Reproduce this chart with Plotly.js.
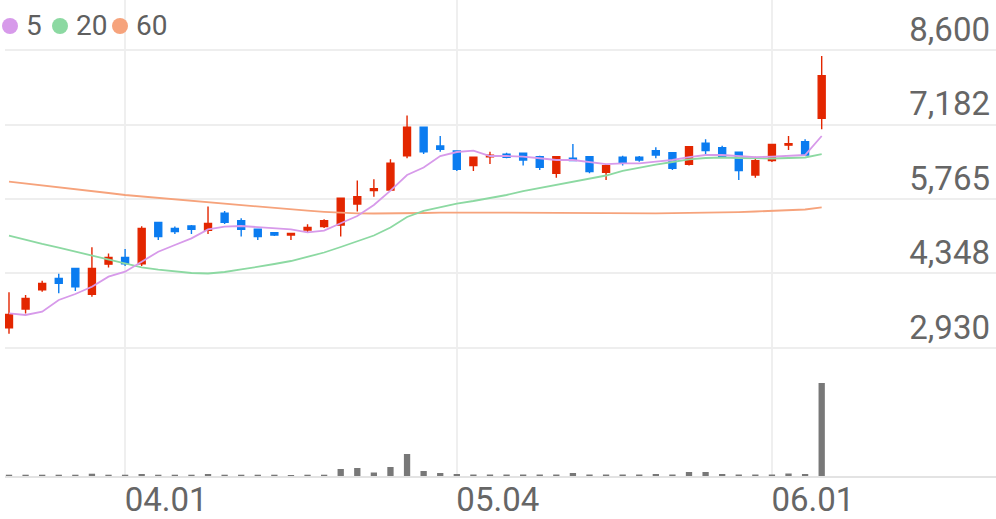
<!DOCTYPE html>
<html>
<head>
<meta charset="utf-8">
<script src="https://cdn.plot.ly/plotly-3.0.1.min.js"></script>
<style>html,body{margin:0;padding:0;background:#fff;}#chart{width:996px;height:519px;}</style>
</head>
<body>
<div id="chart"></div>
<script>
// Trading days (MM.DD)
const dates = ['03.23','03.24','03.25','03.26','03.27','03.30','03.31',
  '04.01','04.02','04.03','04.06','04.07','04.08','04.09','04.10','04.13','04.14','04.16','04.17','04.20','04.21','04.22','04.23','04.24','04.27','04.28','04.29',
  '05.04','05.06','05.07','05.08','05.11','05.12','05.13','05.14','05.15','05.18','05.19','05.20','05.21','05.22','05.25','05.26','05.27','05.28','05.29',
  '06.01','06.02','06.03','06.04'];

const open  = [3315,3670,4035,4255,4445,3950,4525,4655,4530,5320,5205,5250,5170,5495,5350,5190,5125,5080,5175,5240,5270,5670,5925,5935,6585,7130,6775,6680,6400,6570,6615,6635,6570,6255,6540,6570,6275,6560,6560,6685,6645,6425,6825,6740,6655,6220,6495,6790,6855,7300];
const high  = [3990,3940,4210,4345,4455,4845,4730,4815,5245,5330,5240,5270,5620,5535,5400,5200,5135,5120,5285,5380,5795,6115,6140,6520,7355,7140,6965,6690,6565,6665,6645,6640,6590,6585,6810,6575,6430,6590,6585,6750,6650,6775,6900,6780,6660,6570,6810,6965,6900,8485];
const low   = [3200,3585,4000,3970,4015,3905,4460,4490,4490,4985,5100,5100,5100,5290,5050,4985,5060,4985,5125,5215,5050,5525,5810,5915,6540,6620,6665,6300,6300,6430,6540,6400,6315,6170,6490,6255,6125,6400,6475,6540,6315,6400,6620,6560,6125,6170,6470,6695,6585,7090];
const close = [3570,3875,4160,4160,4095,4445,4655,4530,5205,5050,5145,5190,5300,5320,5190,5050,5080,5110,5225,5350,5780,5810,5960,6445,7130,6665,6710,6330,6560,6600,6560,6505,6370,6570,6495,6285,6400,6445,6505,6600,6350,6760,6685,6570,6305,6495,6805,6815,6600,8110];

const ma5  = [3590,3558,3621,3843,3957,4096,4287,4382,4572,4762,4890,5017,5185,5238,5251,5227,5200,5189,5131,5162,5303,5442,5651,5923,6222,6364,6583,6659,6684,6583,6583,6570,6540,6507,6507,6475,6430,6444,6444,6475,6507,6560,6602,6602,6583,6560,6570,6589,6602,6964];
const ma20 = [5067,4985,4909,4838,4762,4686,4604,4542,4465,4420,4382,4357,4347,4376,4424,4471,4528,4585,4661,4747,4852,4966,5070,5223,5423,5537,5613,5679,5727,5784,5841,5917,5974,6031,6088,6146,6212,6298,6364,6421,6469,6517,6545,6555,6545,6536,6536,6545,6555,6621];
const ma60 = [6094,6060,6026,5993,5955,5917,5879,5841,5813,5784,5756,5727,5698,5670,5641,5613,5588,5565,5542,5521,5504,5493,5489,5489,5493,5499,5504,5508,5508,5506,5504,5502,5499,5496,5492,5489,5487,5487,5489,5492,5496,5499,5504,5512,5517,5527,5537,5550,5565,5604];

const volume = [26000,26000,26000,26000,26000,46000,26000,26000,40000,26000,26000,26000,40000,26000,26000,26000,26000,20000,26000,26000,140000,160000,70000,180000,440000,100000,60000,40000,30000,30000,30000,30000,30000,30000,60000,30000,30000,30000,30000,40000,30000,80000,80000,40000,30000,30000,30000,50000,40000,1860000];

const priceTicks = [2930, 4348, 5765, 7182, 8600];
const priceTickText = ['2,930','4,348','5,765','7,182','8,600'];
const dateTicks = ['04.01','05.04','06.01'];

const maNames = ['5','20','60'];
const maColors = ['#d79aea','#8cd9a2','#f6a37c'];

const UP = '#e32600', DOWN = '#0b7cf0';
const FONT = 'Roboto, "Noto Sans", sans-serif';

const traces = [
  {type:'scatter', mode:'lines', x:dates, y:ma60, line:{color:maColors[2], width:1.8}, hoverinfo:'skip', xaxis:'x', yaxis:'y'},
  {type:'scatter', mode:'lines', x:dates, y:ma20, line:{color:maColors[1], width:1.8}, hoverinfo:'skip', xaxis:'x', yaxis:'y'},
  {type:'scatter', mode:'lines', x:dates, y:ma5, line:{color:maColors[0], width:1.8}, hoverinfo:'skip', xaxis:'x', yaxis:'y'},
  {type:'candlestick', x:dates, open:open, high:high, low:low, close:close,
   increasing:{line:{color:UP, width:1.4}, fillcolor:UP},
   decreasing:{line:{color:DOWN, width:1.4}, fillcolor:DOWN},
   whiskerwidth:0, hoverinfo:'skip', xaxis:'x', yaxis:'y'},
  {type:'bar', x:dates, y:volume, width:0.38, marker:{color:'#787878', line:{width:0}}, hoverinfo:'skip', xaxis:'x', yaxis:'y2'}
];

// legend (pixel positions -> paper coords; plot area x:5..996, y:0..476)
const PL = 5, PW = 991, PH = 476;
const px = v => (v - PL) / PW;
const py = v => (PH - v) / PH;
const legendCx = [10, 60, 120];
const legendTx = [24, 74, 134];
const shapes = legendCx.map((cx, i) => ({
  type:'circle', xref:'paper', yref:'paper', xsizemode:'pixel', ysizemode:'pixel',
  xanchor:px(cx), yanchor:py(26), x0:-8, x1:8, y0:-8, y1:8,
  fillcolor:maColors[i], line:{width:0}
}));
const annotations = legendTx.map((tx, i) => ({
  xref:'paper', yref:'paper', x:px(tx), y:py(25), xanchor:'left', yanchor:'middle',
  text:maNames[i], showarrow:false, font:{family:FONT, size:28, color:'#5f5f5f'}
}));

const layout = {
  width:996, height:519,
  margin:{l:5, r:0, t:0, b:43},
  paper_bgcolor:'#ffffff', plot_bgcolor:'#ffffff',
  showlegend:false, hovermode:false,
  boxgap:0.4, boxgroupgap:0.3,
  shapes:shapes, annotations:annotations,
  xaxis:{type:'category', range:[-0.241, 59.51], anchor:'y2',
    tickvals:dateTicks, ticktext:dateTicks, ticks:'',
    showgrid:true, gridcolor:'#efefef', gridwidth:2,
    showline:true, linecolor:'#e3e3e3', linewidth:2, zeroline:false,
    tickfont:{family:FONT, size:33, color:'#666666'},
    ticklabelshift:41, ticklabelstandoff:-7,
    rangeslider:{visible:false}, fixedrange:true},
  yaxis:{domain:[0.2227, 1], range:[2511.4, 9551.35], side:'right',
    tickvals:priceTicks, ticktext:priceTickText, ticks:'',
    ticklabelposition:'inside', ticklabelshift:-21, ticklabelstandoff:3,
    showgrid:true, gridcolor:'#eeeeee', gridwidth:2, zeroline:false, showline:false,
    tickfont:{family:FONT, size:33, color:'#666666'}, fixedrange:true},
  yaxis2:{domain:[0, 0.2227], range:[0, 2120000], showgrid:false, showticklabels:false,
    zeroline:false, showline:false, fixedrange:true}
};

Plotly.newPlot('chart', traces, layout, {displayModeBar:false, staticPlot:true});
</script>
</body>
</html>
